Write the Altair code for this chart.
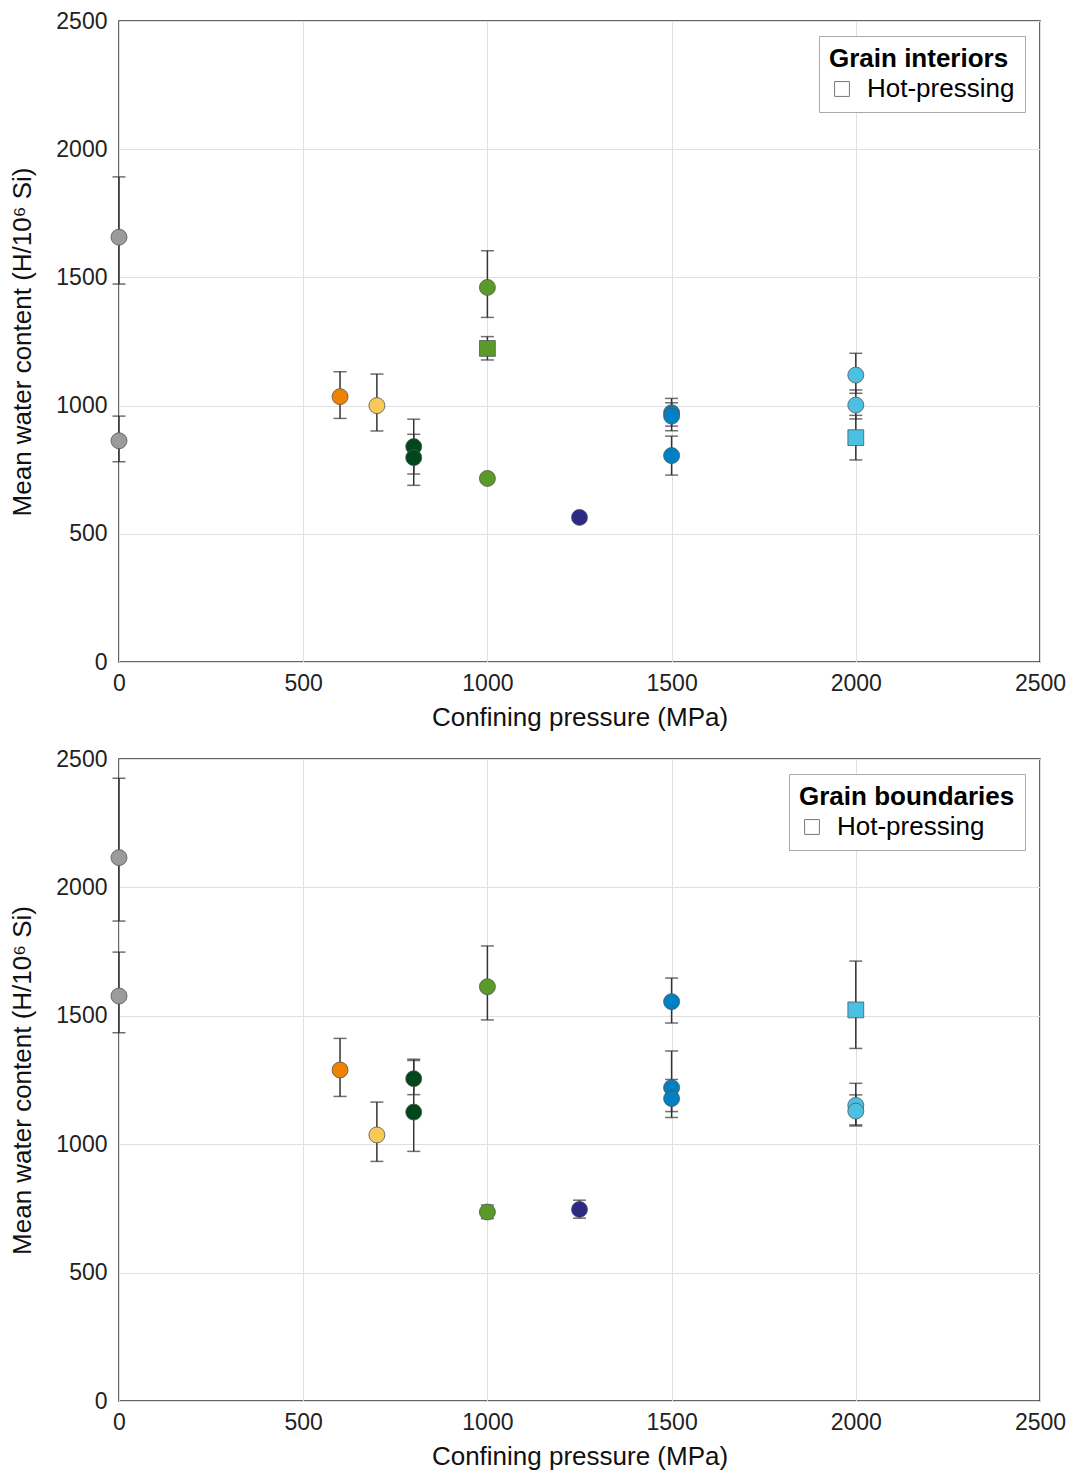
import altair as alt
import pandas as pd

# colour groups
groups = ["grey", "orange", "yellow", "darkgreen", "green", "navy", "blue", "cyan"]
group_colors = ["#9B9B9B", "#EF8200", "#F8C858", "#00471B", "#5A9A28", "#2D2A84", "#0081C6", "#4BC0E3"]

# Grain interiors (top panel)
gi_pressure = [0, 0, 600, 700, 800, 800, 1000, 1000, 1000, 1250, 1500, 1500, 1500, 2000, 2000, 2000]
gi_water = [1657, 863, 1035, 1000, 840, 797, 1461, 1223, 716, 564, 972, 959, 805, 1119, 1002, 875]
gi_low = [1474, 781, 950, 901, 733, 689, 1344, 1178, 700, 548, 920, 902, 729, 1048, 948, 788]
gi_high = [1892, 959, 1132, 1123, 947, 888, 1604, 1269, 732, 580, 1028, 1011, 881, 1204, 1061, 962]
gi_group = ["grey", "grey", "orange", "yellow", "darkgreen", "darkgreen", "green", "green", "green",
            "navy", "blue", "blue", "blue", "cyan", "cyan", "cyan"]
gi_method = ["Other", "Other", "Other", "Other", "Other", "Other", "Other", "Hot-pressing", "Other",
             "Other", "Other", "Other", "Other", "Other", "Other", "Hot-pressing"]

# Grain boundaries (bottom panel)
gb_pressure = [0, 0, 600, 700, 800, 800, 1000, 1000, 1250, 1500, 1500, 1500, 2000, 2000, 2000]
gb_water = [2116, 1577, 1289, 1036, 1255, 1125, 1613, 736, 746, 1555, 1220, 1178, 1523, 1151, 1129]
gb_low = [1869, 1434, 1186, 933, 1193, 972, 1484, 710, 712, 1472, 1127, 1104, 1373, 1071, 1075]
gb_high = [2425, 1748, 1412, 1164, 1331, 1326, 1772, 763, 782, 1647, 1363, 1252, 1713, 1237, 1192]
gb_group = ["grey", "grey", "orange", "yellow", "darkgreen", "darkgreen", "green", "green", "navy",
            "blue", "blue", "blue", "cyan", "cyan", "cyan"]
gb_method = ["Other", "Other", "Other", "Other", "Other", "Other", "Other", "Other", "Other",
             "Other", "Other", "Other", "Hot-pressing", "Other", "Other"]

ticks = [0, 500, 1000, 1500, 2000, 2500]
FONT = "Liberation Sans"


def panel(p, w, lo, hi, g, m, legend_title, h):
    df = pd.DataFrame({"p": p, "w": w, "lo": lo, "hi": hi, "g": g, "method": m})
    base = alt.Chart(df)
    x = alt.X("p:Q", scale=alt.Scale(domain=[0, 2500], nice=False),
              axis=alt.Axis(values=ticks, format="d", labelFlush=False,
                            title="Confining pressure (MPa)"))
    y_lo = alt.Y("lo:Q", scale=alt.Scale(domain=[0, 2500], nice=False),
                 axis=alt.Axis(values=ticks, format="d", labelFlush=False,
                               title="Mean water content (H/10⁶ Si)"))
    color = alt.Color("g:N", scale=alt.Scale(domain=groups, range=group_colors), legend=None)

    rules = base.mark_rule(color="#333", strokeWidth=1.5).encode(x=x, y=y_lo, y2="hi:Q")
    cap_lo = base.mark_tick(orient="horizontal", size=13, thickness=1.5, color="#333").encode(
        x="p:Q", y="lo:Q")
    cap_hi = base.mark_tick(orient="horizontal", size=13, thickness=1.5, color="#333").encode(
        x="p:Q", y="hi:Q")
    circles = base.transform_filter(alt.datum.method != "Hot-pressing").mark_point(
        shape="circle", filled=True, size=256, stroke="#555", strokeWidth=0.8, opacity=1
    ).encode(x="p:Q", y="w:Q", color=color)
    squares = base.transform_filter(alt.datum.method == "Hot-pressing").mark_point(
        filled=True, size=250, stroke="#555", strokeWidth=0.8, opacity=1
    ).encode(
        x="p:Q", y="w:Q", color=color,
        shape=alt.Shape("method:N", scale=alt.Scale(domain=["Hot-pressing"], range=["square"]),
                        legend=alt.Legend(
                            title=legend_title, orient="top-right", offset=15,
                            fillColor="white", strokeColor="#aaaaaa", padding=10,
                            titleFontSize=26, titleFontWeight="bold", titleColor="#000",
                            titleFont=FONT, titlePadding=4, titleLimit=0,
                            labelFontSize=26, labelColor="#000", labelFont=FONT, labelLimit=0,
                            labelOffset=12, symbolType="square", symbolSize=220,
                            symbolFillColor="white", symbolStrokeColor="#777",
                            symbolStrokeWidth=1)),
    )
    return alt.layer(rules, cap_lo, cap_hi, circles, squares).properties(width=921, height=h)


top = panel(gi_pressure, gi_water, gi_low, gi_high, gi_group, gi_method, "Grain interiors", 641)
bottom = panel(gb_pressure, gb_water, gb_low, gb_high, gb_group, gb_method, "Grain boundaries", 642)

chart = alt.vconcat(top, bottom, spacing=16).resolve_scale(
    shape="independent", color="independent"
).resolve_legend(shape="independent").properties(
    padding={"left": 1, "top": 1, "right": 0, "bottom": 0}
).configure(font=FONT).configure_view(
    stroke="#333", strokeWidth=1.5
).configure_axis(
    ticks=False, domain=False, grid=True, gridColor="#e0e0e0", gridWidth=1,
    labelFont=FONT, labelFontSize=23, labelColor="#222",
    titleFont=FONT, titleFontSize=26, titleFontWeight="normal", titleColor="#111",
).configure_axisY(titlePadding=20, labelPadding=12).configure_axisX(titlePadding=9, labelPadding=10)

chart.save("out.html", embed_options={"renderer": "svg", "actions": False})
